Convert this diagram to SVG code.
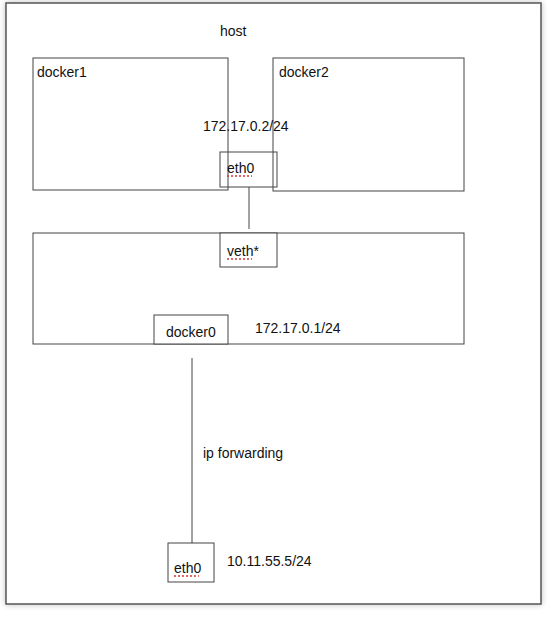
<svg xmlns="http://www.w3.org/2000/svg" width="557" height="618" viewBox="0 0 557 618">
<defs>
<filter id="sh" x="-5%" y="-5%" width="110%" height="110%">
<feGaussianBlur in="SourceAlpha" stdDeviation="3"/>
<feComponentTransfer><feFuncA type="linear" slope="0.25"/></feComponentTransfer>
<feMerge><feMergeNode/><feMergeNode in="SourceGraphic"/></feMerge>
</filter>
</defs>
<style>
.box{fill:#fff;stroke:#444;stroke-width:1}
.fr{fill:#fff;stroke:#555;stroke-width:1.5}
.t{font-family:"Liberation Sans",Arial,sans-serif;font-size:14px;fill:#111}
.ln{stroke:#444;stroke-width:1;fill:none}
.sq{stroke:#d33;stroke-width:1.5;stroke-dasharray:2 2;fill:none}
</style>
<rect width="557" height="618" fill="#fff"/>
<g id="host">
<rect class="fr" x="6" y="3" width="535" height="601" filter="url(#sh)"/>
<text class="t" x="220" y="36">host</text>
</g>
<g id="docker1">
<rect class="box" x="33" y="58" width="195" height="132"/>
<text class="t" x="37" y="77">docker1</text>
</g>
<g id="docker2">
<rect class="box" x="273" y="58" width="191" height="133"/>
<text class="t" x="279" y="77">docker2</text>
</g>
<g id="bridge">
<rect class="box" x="33" y="233" width="431" height="111"/>
</g>
<text class="t" x="203" y="131">172.17.0.2/24</text>
<g id="eth0-top">
<rect class="box" x="220" y="152" width="57" height="35" fill="none" style="fill:none"/>
<text class="t" x="227" y="173">eth0</text>
<path class="sq" d="M227 176H252"/>
</g>
<g id="veth">
<rect class="box" x="220" y="233" width="57" height="34"/>
<text class="t" x="227" y="256">veth*</text>
<path class="sq" d="M227 259H252"/>
</g>
<g id="docker0">
<rect class="box" x="154" y="315" width="74" height="29"/>
<text class="t" x="166" y="337">docker0</text>
</g>
<text class="t" x="255" y="333">172.17.0.1/24</text>
<g id="eth0-host">
<rect class="box" x="168" y="543" width="46" height="39"/>
<text class="t" x="174" y="573">eth0</text>
<path class="sq" d="M174 576H199"/>
</g>
<text class="t" x="227" y="566">10.11.55.5/24</text>
<g id="connectors">
<path class="ln" d="M249 187V229"/>
<path class="ln" d="M192 358V543"/>
</g>
<text class="t" x="203" y="458">ip forwarding</text>
</svg>
